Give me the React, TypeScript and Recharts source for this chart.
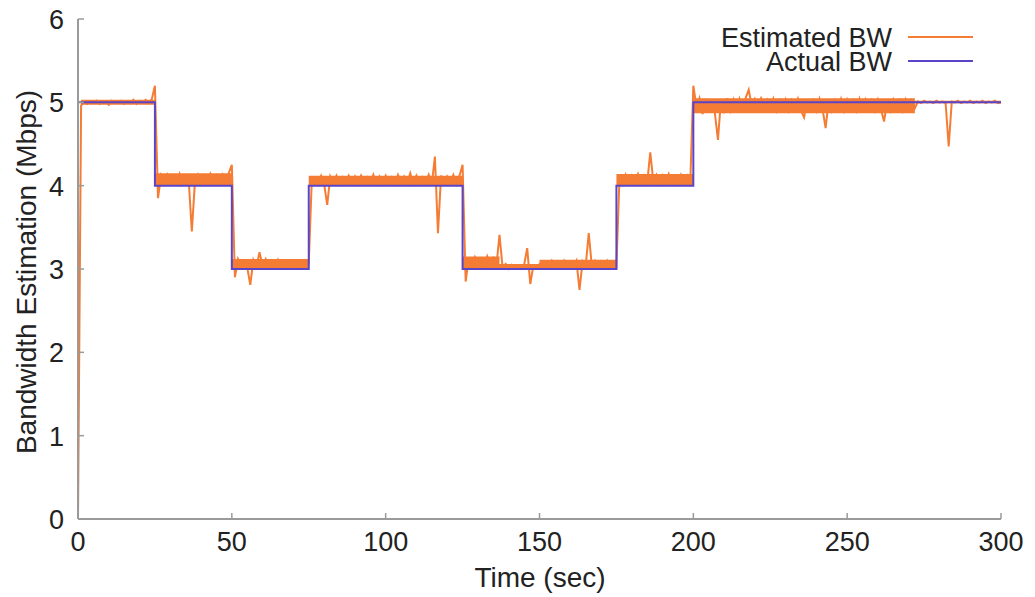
import { ComposedChart, Line, Area, XAxis, YAxis } from "recharts";

// estimated bandwidth, one sample per second (t = 0 .. 300)
const estimatedBw = [
  0, 4.96, 5.0, 4.98, 5.01, 4.99, 5.02, 4.98, 5.0, 5.01,
  4.97, 5.02, 4.99, 5.0, 5.02, 4.98, 5.01, 4.99, 5.03, 4.98,
  5.02, 5.0, 5.03, 4.99, 5.04, 5.2, 3.85, 4.12, 4.03, 4.13,
  4.04, 4.12, 4.02, 4.14, 4.03, 4.11, 4.05, 3.45, 4.04, 4.13,
  4.02, 4.12, 4.04, 4.14, 4.03, 4.12, 4.02, 4.13, 4.04, 4.15,
  4.25, 2.9, 3.12, 3.03, 3.1, 3.02, 2.81, 3.11, 3.03, 3.2,
  3.04, 3.12, 3.02, 3.1, 3.03, 3.11, 3.02, 3.09, 3.03, 3.1,
  3.02, 3.09, 3.03, 3.1, 3.02, 3.06, 4.08, 4.1, 4.03, 4.12,
  4.02, 3.77, 4.11, 4.03, 4.12, 4.02, 4.1, 4.04, 4.12, 4.03,
  4.11, 4.02, 4.12, 4.04, 4.1, 4.03, 4.13, 4.02, 4.11, 4.04,
  4.12, 4.03, 4.1, 4.02, 4.13, 4.04, 4.11, 4.03, 4.15, 4.02,
  4.12, 4.04, 4.1, 4.03, 4.13, 4.02, 4.35, 3.43, 4.12, 4.03,
  4.11, 4.04, 4.13, 4.02, 4.12, 4.25, 2.85, 3.13, 3.03, 3.14,
  3.04, 3.12, 3.02, 3.15, 3.03, 3.13, 3.04, 3.41, 3.02, 3.06,
  3.0, 3.05, 3.01, 3.04, 3.0, 3.05, 3.25, 2.82, 3.04, 3.01,
  3.06, 3.02, 3.08, 3.03, 3.1, 3.02, 3.09, 3.04, 3.1, 3.02,
  3.08, 3.03, 3.1, 2.75, 3.09, 3.03, 3.43, 3.04, 3.1, 3.02,
  3.09, 3.03, 3.1, 3.02, 3.08, 3.03, 4.1, 4.02, 4.13, 4.03,
  4.12, 4.04, 4.14, 4.02, 4.12, 4.03, 4.4, 4.05, 4.13, 4.02,
  4.12, 4.04, 4.14, 4.03, 4.11, 4.02, 4.13, 4.04, 4.12, 4.03,
  5.2, 4.95, 5.05, 4.86, 5.04, 4.88, 5.03, 4.87, 4.55, 5.04,
  4.87, 5.05, 4.9, 5.03, 4.88, 5.04, 4.92, 5.05, 5.15, 4.95,
  5.04, 4.96, 5.05, 4.95, 5.03, 4.92, 5.04, 4.9, 5.02, 4.91,
  5.03, 4.9, 5.02, 4.92, 5.04, 4.9, 4.82, 5.03, 4.91, 5.02,
  4.9, 5.04, 4.92, 4.69, 5.03, 4.9, 5.02, 4.91, 5.04, 4.9,
  5.03, 4.92, 5.02, 4.9, 5.04, 4.91, 5.03, 4.92, 5.02, 4.9,
  5.03, 4.91, 4.77, 5.02, 4.9, 5.03, 4.92, 5.02, 4.9, 5.03,
  4.91, 5.02, 4.93, 5.01, 4.99, 5.02, 5.0, 5.01, 4.99, 5.02,
  5.0, 5.01, 4.99, 4.47, 5.01, 5.0, 5.02, 4.99, 5.01, 5.0,
  5.02, 4.99, 5.01, 5.0, 5.02, 4.99, 5.01, 5.0, 5.02, 4.99, 5.0,
];

// noise envelope of the estimate within each step
const bandStart = [1, 25, 50, 75, 125, 137, 150, 175, 200, 272];
const bandEnd = [25, 50, 75, 125, 137, 150, 175, 200, 272, 300];
const bandLow = [4.97, 4.0, 3.0, 4.0, 3.0, 2.99, 3.0, 4.0, 4.87, 4.99];
const bandHigh = [5.03, 4.15, 3.12, 4.12, 3.15, 3.06, 3.11, 4.14, 5.05, 5.02];

// actual bandwidth steps
const actualTimes = [0, 25, 50, 75, 125, 175, 200, 300];
const actualBw = [5, 4, 3, 4, 3, 4, 5, 5];

const xTicks = [0, 50, 100, 150, 200, 250, 300];
const yTicks = [0, 1, 2, 3, 4, 5, 6];

const estData = estimatedBw.map((v, i) => ({ t: i, bw: v }));
const actData = actualTimes.map((t, i) => ({ t, bw: actualBw[i] }));
const bandData = bandStart.flatMap((s, i) => [
  { t: s, range: [bandLow[i], bandHigh[i]] },
  { t: bandEnd[i], range: [bandLow[i], bandHigh[i]] },
  { t: bandEnd[i], range: null },
]);

const ORANGE = "#f47c34";
const BLUE = "#5a44c8";
const FRAME = "#9a9a9a";
const FONT = "'Liberation Sans', Arial, sans-serif";

const BottomTick = ({ x, y, payload }: any) => (
  <g>
    <line x1={x} y1={y} x2={x} y2={y - 6} stroke={FRAME} strokeWidth={1.5} />
    <text x={x} y={y + 32} textAnchor="middle" fontSize={27} fill="#222" fontFamily={FONT}>
      {payload.value}
    </text>
  </g>
);

const TopTick = ({ x, y }: any) => (
  <line x1={x} y1={y} x2={x} y2={y + 6} stroke={FRAME} strokeWidth={1.5} />
);

const LeftTick = ({ x, y, payload }: any) => (
  <g>
    <line x1={x} y1={y} x2={x + 6} y2={y} stroke={FRAME} strokeWidth={1.5} />
    <text x={x - 14} y={y + 10} textAnchor="end" fontSize={27} fill="#222" fontFamily={FONT}>
      {payload.value}
    </text>
  </g>
);

const RightTick = ({ x, y }: any) => (
  <line x1={x} y1={y} x2={x - 6} y2={y} stroke={FRAME} strokeWidth={1.5} />
);

const legendItems = [
  { name: "Estimated BW", color: ORANGE },
  { name: "Actual BW", color: BLUE },
];

const textStyle = { fontFamily: FONT, fontSize: 28, color: "#222", whiteSpace: "nowrap" as const };

// legend drawn in svg so each entry sits on its own baseline
const LegendSvg = () => (
  <svg width={1035} height={80} style={{ position: "absolute", left: 0, top: 0 }}>
    {legendItems.map((item, i) => (
      <g key={item.name}>
        <text x={892} y={47 + i * 24} textAnchor="end" fontSize={27} fill="#222" fontFamily={FONT}>
          {item.name}
        </text>
        <line x1={908} x2={973} y1={37 + i * 24} y2={37 + i * 24} stroke={item.color} strokeWidth={2} />
      </g>
    ))}
  </svg>
);

export default function App() {
  return (
    <div style={{ position: "absolute", left: 0, top: 0, width: 1035, height: 597, background: "#fff" }}>
      <ComposedChart width={1035} height={597} margin={{ top: 19, right: 34, bottom: 48, left: 28 }}>
        <XAxis
          dataKey="t"
          type="number"
          domain={[0, 300]}
          ticks={xTicks}
          tick={BottomTick}
          tickLine={false}
          tickSize={0}
          tickMargin={0}
          height={30}
          axisLine={{ stroke: FRAME, strokeWidth: 2 }}
        />
        <XAxis
          xAxisId="top"
          orientation="top"
          type="number"
          domain={[0, 300]}
          ticks={xTicks}
          tick={TopTick}
          tickLine={false}
          tickSize={0}
          tickMargin={0}
          height={0}
          axisLine={{ stroke: FRAME, strokeWidth: 2 }}
        />
        <YAxis
          type="number"
          domain={[0, 6]}
          ticks={yTicks}
          tick={LeftTick}
          tickLine={false}
          tickSize={0}
          tickMargin={0}
          width={50}
          axisLine={{ stroke: FRAME, strokeWidth: 2 }}
        />
        <YAxis
          yAxisId="right"
          orientation="right"
          type="number"
          domain={[0, 6]}
          ticks={yTicks}
          tick={RightTick}
          tickLine={false}
          tickSize={0}
          tickMargin={0}
          width={0}
          axisLine={{ stroke: FRAME, strokeWidth: 2 }}
        />
        <Area
          data={bandData}
          dataKey="range"
          type="linear"
          stroke="none"
          fill={ORANGE}
          fillOpacity={1}
          connectNulls={false}
          isAnimationActive={false}
        />
        <Line
          data={estData}
          dataKey="bw"
          type="linear"
          stroke={ORANGE}
          strokeWidth={2}
          dot={false}
          isAnimationActive={false}
        />
        <Line
          data={actData}
          dataKey="bw"
          type="stepAfter"
          stroke={BLUE}
          strokeWidth={2}
          dot={false}
          isAnimationActive={false}
        />
      </ComposedChart>
      <LegendSvg />
      <div
        style={{
          position: "absolute",
          left: 27,
          top: 272,
          transform: "translate(-50%, -50%) rotate(-90deg)",
          ...textStyle,
        }}
      >
        Bandwidth Estimation (Mbps)
      </div>
      <div style={{ position: "absolute", left: 540, top: 578, transform: "translate(-50%, -50%)", ...textStyle }}>
        Time (sec)
      </div>
    </div>
  );
}
